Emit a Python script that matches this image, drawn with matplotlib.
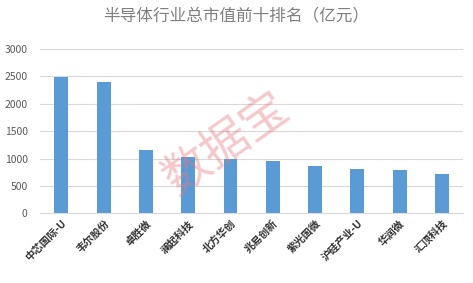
import numpy as np
import matplotlib.pyplot as plt

plt.rcParams['font.family'] = ['Noto Sans CJK SC', 'DejaVu Sans']

# datos (亿元)
empresas = ['中芯国际-U', '韦尔股份', '卓胜微', '澜起科技', '北方华创',
            '兆易创新', '紫光国微', '沪硅产业-U', '华润微', '汇顶科技']
valores = [2490, 2400, 1155, 1027, 996, 960, 863, 814, 790, 717]
ticks_y = [0, 500, 1000, 1500, 2000, 2500, 3000]

fig = plt.figure(figsize=(4.73, 2.83), dpi=100)
ax = fig.add_axes([0.085, 0.246, 0.894, 0.581])

x = np.arange(len(empresas))
ax.bar(x, valores, width=0.33, color='#5B9BD5', zorder=2)

ax.set_xlim(-0.5, len(empresas) - 0.5)
ax.set_ylim(0, 3000)
ax.set_yticks(ticks_y)
ax.yaxis.grid(True, color='#D9D9D9', linewidth=0.8, zorder=0)
for s in ['top', 'right', 'left']:
    ax.spines[s].set_visible(False)
ax.spines['bottom'].set_color('#D9D9D9')
ax.tick_params(axis='both', length=0, labelsize=7.5, colors='#595959')
ax.tick_params(axis='y', pad=9)

ax.set_xticks(x)
ax.set_xticklabels(empresas, rotation=45, ha='right', rotation_mode='anchor',
                   fontsize=7.5, fontweight='bold', color='#333333')

fig.text(0.5, 0.945, '半导体行业总市值前十排名（亿元）', ha='center', va='center',
         fontsize=12, color='#808080')

# marca de agua
fig.text(0.478, 0.49, '数据宝', ha='center', va='center', fontsize=34,
         color='#E8787D', alpha=0.4, rotation=35, zorder=5)

fig.savefig('out.png', dpi=100)
